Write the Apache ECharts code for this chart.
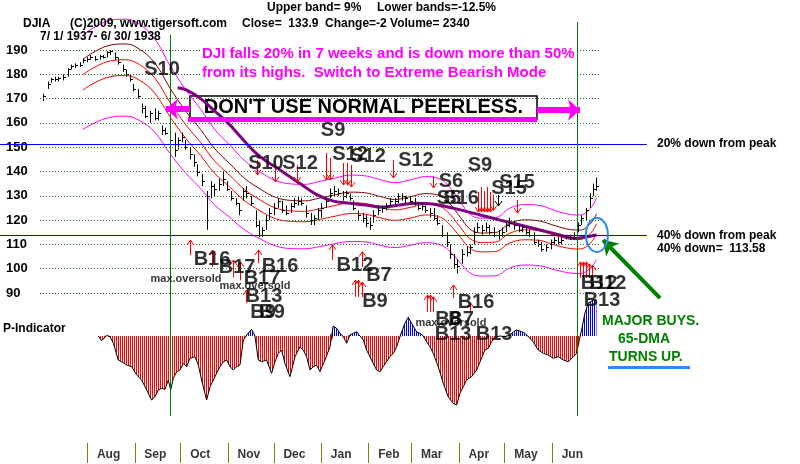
<!DOCTYPE html>
<html>
<head>
<meta charset="utf-8">
<title>DJIA 1937-1938</title>
<script src="https://cdn.jsdelivr.net/npm/echarts@6/dist/echarts.min.js"></script>
<style>
html, body { margin: 0; padding: 0; background: #fff; }
#chart { width: 800px; height: 464px; }
</style>
</head>
<body>
<div id="chart"></div>
<script>
// x values are calendar days counted from 1 Jul 1937
// price bars: day, high, low, close
var priceBars = [
  [2,172,169,171],[5,177,174,176],[7,178.5,176.5,178],[10,179,177,178],[12,179,177,178.5],[15,180,177.5,179],
  [18,182.5,179,182],[20,184,182,183.5],[23,184.5,182.5,184],[26,185,183,184],[28,186.5,184.5,186],[31,187,185,186.5],
  [33,188,186,187],[36,187.5,185.5,186.5],[39,188,186,187.5],[41,188,186.5,187],[44,189.5,187,189],[46,190,188,189.5],
  [49,189,186,187],[51,187,184,185],[54,184,181,182],[56,182,179,180],[59,180,177,178],[61,176,173,174],
  [64,174,170,171],[67,168,164,166],[69,167,162,163],[72,165,160,164],[75,166,161,162],[77,165,161,164],
  [80,159,155,157],[82,158,155,156],[85,157,152,153],[88,156,146,149],[90,154,149,153],[93,156,152,154],
  [95,153,149,150],[98,150,145,147],[101,147,142,144],[103,143,138,140],[106,139,134,136],[109,132,116,130],
  [112,136,129,134],[114,135,130,133],[117,137,132,135],[120,140,134,137],[122,136,132,133],[125,132,128,129],
  [128,129,126,127],[130,127,122,124],[133,133,128,132],[135,134,129,131],[138,130,126,127],[141,124,117,118],
  [143,120,113,114],[145,117,113,116],[148,122,116,120],[150,125,120,123],[153,127,122,125],[156,129,125,128],
  [158,128,123,124],[161,126,122,123],[164,127,123,126],[166,129,125,127],[169,130,126,128],[171,129,126,127],
  [174,126,121,123],[177,123,118,120],[179,122,118,121],[182,125,120,124],[184,127,121,125],[187,129,125,128],
  [190,133,129,131],[192,134,130,132],[195,133,130,131],[198,132,128,130],[200,132,129,131],[203,131,128,129],
  [205,128,124,125],[208,124,120,122],[211,123,119,121],[213,122,117,119],[216,121,116,118],[218,124,119,122],
  [221,126,122,124],[224,126,123,125],[226,127,124,126],[229,129,126,128],[232,129,126,128],[234,131,127,130],
  [237,131,128,130],[239,130,127,129],[242,130,127,128],[245,129,126,127],[247,127,124,125],[250,127,124,126],
  [252,126,123,124],[255,125,121,123],[258,125,120,121],[260,122,118,119],[263,118,113,114],[266,115,109,111],
  [268,110,104,106],[271,106,100,102],[273,104,98,101],[276,108,102,106],[279,109,105,107],[281,110,106,109],
  [284,117,110,115],[286,119,115,117],[289,118,114,116],[292,119,115,117],[294,118,114,115],[297,117,113,114],
  [300,116,112,114],[302,117,113,115],[305,119,115,118],[307,121,117,119],[310,120,116,118],[313,118,115,116],
  [315,118,115,117],[318,117,114,115],[320,116,113,114],[323,115,110,111],[326,112,109,110],[328,111,107,108],
  [331,110,107,109],[334,112,108,111],[336,113,110,112],[339,113,110,111],[341,113,110,112],[344,114,112,113],
  [347,114,112,113],[349,115,112,114],[352,119,115,118],[354,122,118,121],[357,125,120,124],[360,131,125,129],
  [362,135,130,133],[364,137.5,132,133.9]
];

// band lines
var bandDays  = [28,36,46,56,65,75,85,95,105,114,124,134,144,154,164,173,183,193,203,213,222,232,242,252,262,268,275,281,288,298,307,317,327,337,347,353,360,364];
var ma21      = [179.8,183.0,185.5,186.0,184.0,178.5,168.5,159.5,152.0,144.5,138.5,132.5,128.3,125.0,123.8,123.6,124.7,126.0,127.1,126.8,125.4,124.2,125.2,126.5,125.5,122.5,117.0,112.5,110.8,111.0,114.5,116.0,115.6,113.7,112.2,112.0,114.5,118.5];
var bandUp35  = [186.1,189.4,192.0,192.5,190.4,184.7,174.4,165.1,157.3,149.6,143.3,137.1,132.8,129.4,128.1,127.9,129.1,130.4,131.5,131.2,129.8,128.5,129.6,130.9,129.9,126.8,121.1,116.4,114.7,114.9,118.5,120.1,119.6,117.7,116.1,115.9,118.5,122.6];
var bandLo35  = [173.5,176.6,179.0,179.5,177.6,172.3,162.6,153.9,146.7,139.4,133.7,127.9,123.8,120.6,119.5,119.3,120.3,121.6,122.7,122.4,121.0,119.9,120.8,122.1,121.1,118.2,112.9,108.6,106.9,107.1,110.5,111.9,111.6,109.7,108.3,108.1,110.5,114.4];
var bandUp9   = [196.0,199.5,202.2,202.7,200.6,194.6,183.7,173.9,165.7,157.5,151.0,144.4,139.8,136.3,134.9,134.7,135.9,137.3,138.5,138.2,136.7,135.4,136.5,137.9,136.8,133.5,127.5,122.6,120.8,121.0,124.8,126.4,126.0,123.9,122.3,122.1,124.8,129.2];
var bandLo125 = [157.3,160.1,162.3,162.8,161.0,156.2,147.4,139.6,133.0,126.4,121.2,115.9,112.3,109.4,108.3,108.2,109.1,110.3,111.2,111.0,109.7,108.7,109.6,110.7,109.8,107.2,102.4,98.4,97.0,97.1,100.2,101.5,101.2,99.5,98.2,98.0,100.2,103.7];

// 65-day moving average
var dma65 = [[90,174.5],[96,173.5],[105,170.0],[114,165.0],[123,160.0],[133,153.0],[144,146.1],[157,140.6],[170,135.1],
  [181,130.5],[192,127.8],[203,126.9],[213,126.2],[224,125.3],[235,126.2],[246,126.9],[257,126.6],[266,125.5],[275,124.2],
  [288,122.1],[301,120.0],[314,118.0],[327,115.9],[340,113.9],[349,112.5],[355,112.9],[364,113.9]];

// P-Indicator (day, value)
var pIndicator = [[38.2,0],[40.3,-4.7],[43.6,0.5],[45.8,-0.7],[48,-7.3],[51.2,-24],[53.4,-25.7],[56.7,-29],[60,-30.7],
  [63.2,-39],[66.5,-44],[69.8,-54],[73,-64],[75.2,-60.7],[77.4,-54],[79.6,-52.3],[81.8,-53.3],[83.9,-44],[85.5,-54],
  [87.2,-42.3],[89.4,-35.7],[91.6,-34],[93.7,-27.3],[95.9,-30.7],[98.1,-22.3],[101.4,-20.7],[103.6,-29],[105.7,-44],
  [109,-64],[111.2,-50.7],[113.4,-44],[115.5,-37.3],[117.7,-30.7],[119.9,-25.7],[122.1,-24],[124.3,-30.7],[126.4,-34],
  [128.6,-30.7],[130.8,-29],[133,-4],[135.2,1],[138.4,6.7],[140.6,0],[142.8,-24],[145,-25.7],[148.2,-24],[151.5,-37.3],
  [153.7,-25.7],[155.9,-17.3],[158,-14],[160.2,-27.3],[163.5,-40.7],[166.8,-20.7],[170,-10.7],[172.2,-14],[174.4,-20.7],
  [176.6,-34],[178.8,-30.7],[180.9,-29],[183.1,-35.7],[186.4,-24],[189.7,-10.7],[191.8,10],[194,7.7],[196.2,2.7],
  [198.4,-0.7],[200.6,-7.3],[202.7,1],[204.9,2.7],[207.1,4.3],[209.3,0],[211.5,-4],[213.6,-14],[216.9,-24],[220.2,-34],
  [222.4,-35.7],[224.5,-30.7],[226.7,-25.7],[228.9,-20.7],[231.1,-17.3],[233.3,-10.7],[235.4,-0.7],[238.7,12.7],
  [240.9,18.7],[243.1,12.7],[246.3,4.3],[248.5,2.7],[250.7,0],[252.9,-5.7],[255.1,-10.7],[257.2,-17.3],[260.5,-30.7],
  [263.8,-47.3],[267,-60.7],[270.3,-67.3],[272.5,-69],[274.7,-57.3],[276.9,-50.7],[279,-44],[282.3,-40.7],[285.6,-34],
  [288.8,-22.3],[291,-14],[293.2,-12.3],[295.4,-5.7],[297.6,-1.3],[300.8,0],[304.1,-0.7],[307.4,1],[309.6,4.3],[311.7,6],
  [315,4.3],[317.2,2.7],[319.4,-0.7],[322.6,-5.7],[325.9,-14],[329.2,-17.3],[332.4,-19],[335.7,-22.3],[339,-20.7],
  [342.3,-24],[345.5,-25.7],[348.8,-20.7],[351,-17.3],[353.2,-0.7],[354.3,6],[356.4,22.7],[358.6,32.7],[361.9,36],[364,36]];

// signals: day, price level, text
var sellSignals = [[79.8,181.8,'S10'],[191.7,156.7,'S9'],[147.8,143.1,'S10'],[170.1,143.1,'S12'],[202.8,146.8,'S12'],
  [214.6,146.0,'S12'],[245.9,144.7,'S12'],[287.8,142.3,'S9'],[268.8,135.7,'S6'],[267.5,129.1,'S5'],[275.4,129.1,'S16'],
  [306.8,133.2,'S15'],[312.0,135.3,'S15']];
var buySignals = [[112.5,103.6,'B16'],[128.9,100.7,'B17'],[145.2,95.8,'B17'],[157.0,101.1,'B16'],[146.5,88.4,'B13'],
  [145.9,81.8,'B9'],[151.8,81.8,'B9'],[206.0,101.5,'B12'],[221.7,97.4,'B7'],[219.1,86.7,'B9'],[285.2,85.9,'B16'],
  [266.9,79.3,'B8'],[275.4,79.3,'B7'],[270.2,73.1,'B13'],[297.0,73.1,'B13'],[365.7,94.1,'B12'],[371.5,94.1,'B12'],
  [367.6,87.1,'B13']];
var oversoldNotes = [[95.5,95.8,'max.oversold'],[140.6,92.9,'max.oversold'],[268.8,77.7,'max.oversold']];

// arrows: day, tail price, head price
var sellArrows = [[141.9,144.7,138.6],[153.7,142.7,135.7],[168.1,142.7,135.7],[187.0,147.6,136.5],[189.7,145.6,136.5],
  [198.2,143.5,134.4],[200.8,143.5,134.4],[203.4,142.7,133.6],[230.9,144.7,137.3],[257.0,138.1,133.2],
  [286.5,131.6,123.3],[288.5,133.6,123.3],[290.5,132.0,123.3],[292.5,133.6,123.3],[294.5,131.6,123.3],
  [296.5,130.5,124.0],[312.0,128.3,122.9]];
var blackArrows = [[299.5,130.3,125.8]];
var buyArrows = [[98.1,105.6,111.8],[112.5,100.7,107.7],[126.2,96.6,103.6],[130.8,95.3,102.8],[142.6,102.3,107.7],
  [134.7,85.9,91.2],[191.0,103.6,109.8],[210.6,100.7,107.0],[206.0,88.4,95.3],[208.0,88.4,95.3],[210.6,88.4,94.5],
  [253.1,82.2,89.2],[255.0,82.2,89.2],[257.0,82.2,88.4],[270.1,88.0,93.3],[281.2,82.2,85.9],[353.0,96.2,102.8],
  [355.0,96.2,102.8],[357.0,96.2,102.8],[359.0,96.2,102.0],[361.0,96.6,101.5]];

var gridLevels = [90,100,110,120,130,140,150,160,170,180,190];
var peakLevels = [151.4, 113.58];
var markerDays = [85.0, 351.3];
var monthStarts = [31,62,92,123,153,184,215,243,274,304,335];
var monthNames = ['Aug','Sep','Oct','Nov','Dec','Jan','Feb','Mar','Apr','May','Jun'];

var FONT = 'Liberation Sans';
var X_MIN = -26.165, X_MAX = 497.13;

function stripes(color) {
  var c = document.createElement('canvas');
  c.width = 2; c.height = 4;
  var g = c.getContext('2d');
  g.fillStyle = color;
  g.fillRect(0, 0, 1, 4);
  return { image: c, repeat: 'repeat' };
}

function zip(xs, ys) {
  return xs.map(function (x, i) { return [x, ys[i]]; });
}

function bandLine(name, values, color, z) {
  return {
    name: name, type: 'line', xAxisIndex: 0, yAxisIndex: 0, data: zip(bandDays, values),
    smooth: 0.4, symbol: 'none', silent: true, z: z || 2,
    lineStyle: { color: color, width: 1 }
  };
}

function renderBar(params, api) {
  var hi = api.coord([api.value(0), api.value(1)]);
  var lo = api.coord([api.value(0), api.value(2)]);
  var cl = api.coord([api.value(0), api.value(3)]);
  var x = Math.round(hi[0]) + 0.5;
  var cy = Math.round(cl[1]) + 0.5;
  return {
    type: 'group', children: [
      { type: 'line', shape: { x1: x, y1: hi[1], x2: x, y2: lo[1] }, style: { stroke: '#000', lineWidth: 1 } },
      { type: 'line', shape: { x1: x, y1: cy, x2: x + 2.5, y2: cy }, style: { stroke: '#000', lineWidth: 1 } }
    ]
  };
}

function arrowRenderer(color) {
  return function (params, api) {
    var a = api.coord([api.value(0), api.value(1)]);
    var b = api.coord([api.value(0), api.value(2)]);
    var x = Math.round(a[0]) + 0.5;
    var dir = b[1] > a[1] ? 1 : -1;
    return {
      type: 'group', children: [
        { type: 'line', shape: { x1: x, y1: a[1], x2: x, y2: b[1] }, style: { stroke: color, lineWidth: 1 } },
        { type: 'polyline', shape: { points: [[x - 3.5, b[1] - 5 * dir], [x, b[1]], [x + 3.5, b[1] - 5 * dir]] },
          style: { stroke: color, fill: null, lineWidth: 1 } }
      ]
    };
  };
}

function arrowSeries(rows, color) {
  return {
    type: 'custom', xAxisIndex: 0, yAxisIndex: 0, z: 6, silent: true, clip: false,
    data: rows, encode: { x: 0, y: [1, 2] }, renderItem: arrowRenderer(color)
  };
}

function textSeries(rows, size, weight, z) {
  return {
    type: 'scatter', xAxisIndex: 0, yAxisIndex: 0, z: z || 7, silent: true, clip: false,
    symbolSize: 1, itemStyle: { color: 'rgba(0,0,0,0)' },
    data: rows.map(function (r) { return { value: [r[0], r[1]], name: r[2] }; }),
    label: { show: true, position: 'inside', formatter: '{b}', color: '#000',
      fontFamily: FONT, fontSize: size, fontWeight: weight },
    labelLayout: { hideOverlap: false }
  };
}

var chart = echarts.init(document.getElementById('chart'), null, { renderer: 'canvas' });

var gridLines = gridLevels.map(function (v) {
  return [{ coord: [0, v] }, { coord: [366.3, v] }];
});
var peakLines = peakLevels.map(function (v) {
  return [{ coord: [X_MIN, v], lineStyle: { color: '#0000ff', width: 1, type: 'solid' } }, { coord: [397.0, v] }];
});
var greenLines = [
  [{ coord: [markerDays[0], 196.2] }, { coord: [markerDays[0], 39.4] }],
  [{ coord: [markerDays[1], 201.5] }, { coord: [markerDays[1], 39.4] }]
];

var option = {
  animation: false,
  backgroundColor: '#ffffff',
  grid: [
    { left: 0, width: 800, top: 1.4, height: 437.4 },
    { left: 0, width: 800, top: 296, height: 115 },
    { left: 0, width: 800, top: 443, height: 20 }
  ],
  xAxis: [
    { type: 'value', gridIndex: 0, min: X_MIN, max: X_MAX, show: false },
    { type: 'value', gridIndex: 1, min: X_MIN, max: X_MAX, show: false },
    { type: 'value', gridIndex: 2, min: X_MIN, max: X_MAX, show: false }
  ],
  yAxis: [
    { type: 'value', gridIndex: 0, min: 30, max: 210, interval: 10,
      axisLine: { show: false }, axisTick: { show: false }, splitLine: { show: false },
      axisLabel: { inside: true, margin: 6, color: '#000', fontFamily: FONT, fontSize: 13, fontWeight: 'bold',
        formatter: function (v) { return (v >= 90 && v <= 190) ? String(v) : ''; } } },
    { type: 'value', gridIndex: 1, min: -75, max: 40, show: false },
    { type: 'value', gridIndex: 2, min: 0, max: 1, show: false }
  ],
  series: [
    {
      name: 'rules', type: 'line', xAxisIndex: 0, yAxisIndex: 0, data: [], z: 1, silent: true,
      markLine: { silent: true, symbol: ['none', 'none'], label: { show: false },
        lineStyle: { color: '#2f6f2f', width: 1, type: [1, 2] },
        data: gridLines.concat(peakLines) }
    },
    bandLine('upper 9%', bandUp9, '#ff00ff'),
    bandLine('lower 12.5%', bandLo125, '#ff00ff'),
    bandLine('upper', bandUp35, '#800000'),
    bandLine('ma', ma21, '#ff0000'),
    bandLine('lower', bandLo35, '#ff0000'),
    {
      name: '65-dma', type: 'line', xAxisIndex: 0, yAxisIndex: 0, data: dma65, smooth: 0.4,
      symbol: 'none', silent: true, z: 3, lineStyle: { color: '#800080', width: 3 }
    },
    {
      name: 'DJIA', type: 'custom', xAxisIndex: 0, yAxisIndex: 0, z: 4, silent: true,
      data: priceBars, encode: { x: 0, y: [1, 2, 3] }, renderItem: renderBar
    },
    {
      name: 'pNeg', type: 'line', xAxisIndex: 1, yAxisIndex: 1, z: 2, silent: true, symbol: 'none',
      data: pIndicator.map(function (p) { return [p[0], Math.min(p[1], 0)]; }),
      lineStyle: { width: 0 }, areaStyle: { color: stripes('#ff0000'), opacity: 1 }
    },
    {
      name: 'pPos', type: 'line', xAxisIndex: 1, yAxisIndex: 1, z: 2, silent: true, symbol: 'none',
      data: pIndicator.map(function (p) { return [p[0], Math.max(p[1], 0)]; }),
      lineStyle: { width: 0 }, areaStyle: { color: stripes('#0000ff'), opacity: 1 }
    },
    {
      name: 'P-Indicator', type: 'line', xAxisIndex: 1, yAxisIndex: 1, z: 3, silent: true, symbol: 'none',
      data: pIndicator, lineStyle: { color: '#000', width: 1 }
    },
    {
      name: 'verticals', type: 'line', xAxisIndex: 0, yAxisIndex: 0, data: [], z: 5, silent: true,
      markLine: { silent: true, symbol: ['none', 'none'], label: { show: false },
        lineStyle: { color: '#008000', width: 1, type: 'solid' }, data: greenLines }
    },
    {
      name: 'box', type: 'line', xAxisIndex: 0, yAxisIndex: 0, data: [], z: 6, silent: true,
      markArea: { silent: true,
        itemStyle: { color: '#ffffff', borderColor: '#000', borderWidth: 1.5 },
        label: { show: true, position: 'inside', color: '#000', fontFamily: FONT, fontSize: 20, fontWeight: 'bold' },
        data: [[{ name: "DON'T USE NORMAL PEERLESS.", coord: [98.1, 171.1] }, { coord: [325.1, 161.6] }]] },
      markLine: { silent: true, label: { show: false }, symbol: ['none', 'none'],
        lineStyle: { type: 'solid', color: '#ff00ff', width: 5 },
        data: [
          [{ coord: [96.8, 161.4], symbol: 'none' }, { coord: [325.1, 161.4], symbol: 'none' }],
          [{ coord: [98.1, 165.7], symbol: 'none', lineStyle: { width: 6 } }, { coord: [82.4, 165.7], symbol: 'arrow', symbolSize: [16, 12] }],
          [{ coord: [325.1, 165.3], symbol: 'none', lineStyle: { width: 6 } }, { coord: [353.2, 165.3], symbol: 'arrow', symbolSize: [16, 12] }],
          [{ coord: [405.6, 87.9], symbol: 'none', lineStyle: { color: '#008000', width: 4 } }, { coord: [368.3, 111.8], symbol: 'arrow', symbolSize: [14, 14] }]
        ] }
    },
    {
      name: 'ellipse', type: 'custom', xAxisIndex: 0, yAxisIndex: 0, z: 6, silent: true, clip: false,
      data: [[364.3, 113.9]],
      renderItem: function (params, api) {
        var c = api.coord([api.value(0), api.value(1)]);
        return { type: 'ellipse', shape: { cx: c[0], cy: c[1], rx: 11, ry: 17 },
          style: { fill: null, stroke: '#2a8cf0', lineWidth: 2 } };
      }
    },
    arrowSeries(sellArrows, '#ff0000'),
    arrowSeries(buyArrows, '#ff0000'),
    arrowSeries(blackArrows, '#000000'),
    textSeries(sellSignals, 20, 'bold'),
    textSeries(buySignals, 20, 'bold'),
    textSeries(oversoldNotes, 11, 'bold', 8),
    {
      name: 'months', type: 'scatter', xAxisIndex: 2, yAxisIndex: 2, silent: true, symbolSize: 1,
      itemStyle: { color: 'rgba(0,0,0,0)' },
      data: monthStarts.map(function (d, i) { return { value: [d, 0.4], name: monthNames[i] }; }),
      label: { show: true, position: 'right', distance: 9, formatter: '{b}', color: '#000',
        fontFamily: FONT, fontSize: 12, fontWeight: 'bold' },
      markLine: { silent: true, symbol: ['none', 'none'], label: { show: false },
        lineStyle: { color: '#808000', width: 1, type: 'solid' },
        data: monthStarts.map(function (d) { return [{ coord: [d, 0] }, { coord: [d, 1] }]; }) }
    }
  ],
  graphic: [
    { type: 'text', left: 267, top: 2, z: 100, style: { text: 'Upper band= 9%', fill: '#000', fontFamily: FONT, fontSize: 12, fontWeight: 'bold' } },
    { type: 'text', left: 377, top: 2, z: 100, style: { text: 'Lower bands=-12.5%', fill: '#000', fontFamily: FONT, fontSize: 12, fontWeight: 'bold' } },
    { type: 'text', left: 23, top: 18, z: 100, style: { text: 'DJIA', fill: '#000', fontFamily: FONT, fontSize: 12, fontWeight: 'bold' } },
    { type: 'text', left: 70, top: 18, z: 100, style: { text: '(C)2009, www.tigersoft.com', fill: '#000', fontFamily: FONT, fontSize: 12, fontWeight: 'bold' } },
    { type: 'text', left: 242, top: 18, z: 100, style: { text: 'Close=  133.9  Change=-2 Volume= 2340', fill: '#000', fontFamily: FONT, fontSize: 12, fontWeight: 'bold' } },
    { type: 'text', left: 40, top: 31, z: 100, style: { text: '7/ 1/ 1937- 6/ 30/ 1938', fill: '#000', fontFamily: FONT, fontSize: 12, fontWeight: 'bold' } },
    { type: 'text', left: 202, top: 43, z: 100, style: { text: 'DJI falls 20% in 7 weeks and is down more than 50%\nfrom its highs.  Switch to Extreme Bearish Mode',
        fill: '#ff00ff', fontFamily: FONT, fontSize: 15, fontWeight: 'bold', lineHeight: 19, backgroundColor: '#fff', padding: [1, 2, 8, 0] } },
    { type: 'text', left: 657, top: 138, z: 100, style: { text: '20% down from peak', fill: '#000', fontFamily: FONT, fontSize: 12, fontWeight: 'bold' } },
    { type: 'text', left: 657, top: 230, z: 100, style: { text: '40% down from peak', fill: '#000', fontFamily: FONT, fontSize: 12, fontWeight: 'bold' } },
    { type: 'text', left: 657, top: 243, z: 100, style: { text: '40% down=  113.58', fill: '#000', fontFamily: FONT, fontSize: 12, fontWeight: 'bold' } },
    { type: 'text', left: 3, top: 323, z: 100, style: { text: 'P-Indicator', fill: '#000', fontFamily: FONT, fontSize: 12, fontWeight: 'bold' } },
    { type: 'text', left: 602, top: 314, z: 100, style: { text: 'MAJOR BUYS.', fill: '#008000', fontFamily: FONT, fontSize: 14, fontWeight: 'bold' } },
    { type: 'text', left: 618, top: 332, z: 100, style: { text: '65-DMA', fill: '#008000', fontFamily: FONT, fontSize: 14, fontWeight: 'bold' } },
    { type: 'text', left: 609, top: 350, z: 100, style: { text: 'TURNS UP.', fill: '#008000', fontFamily: FONT, fontSize: 14, fontWeight: 'bold' } },
    { type: 'rect', left: 608, top: 366, z: 100, shape: { width: 82, height: 3 }, style: { fill: '#2a8cf0' } }
  ]
};

chart.setOption(option);
</script>
</body>
</html>
